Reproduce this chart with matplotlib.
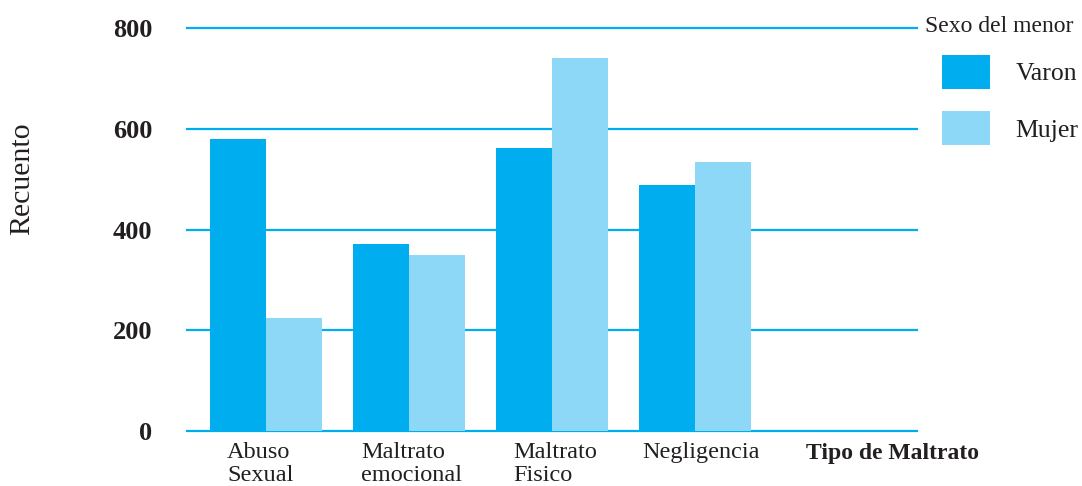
import numpy as np
import matplotlib.pyplot as plt

# datos
categorias = ["Abuso\nSexual", "Maltrato\nemocional", "Maltrato\nFisico", "Negligencia"]
varon = [580, 372, 562, 488]
mujer = [225, 350, 740, 534]
yticks = [0, 200, 400, 600, 800]

azul = "#00AEEF"
celeste = "#8DD7F7"
texto = "#231F20"

plt.rcParams['font.family'] = ['Liberation Serif', 'DejaVu Serif']

fig = plt.figure(figsize=(10.82, 4.86), dpi=100)
ax = fig.add_axes([187/1082, 1 - 431/486, 730/1082, 403/486])

x = np.arange(len(categorias))
w = 0.39
ax.bar(x - w/2, varon, w, color=azul, label="Varon", zorder=3)
ax.bar(x + w/2, mujer, w, color=celeste, label="Mujer", zorder=3)

ax.set_xlim(-0.552, 4.55)
ax.set_ylim(0, 800)
for v in yticks:
    ax.axhline(v, color=azul, lw=1.6, zorder=1, clip_on=False)

for s in ax.spines.values():
    s.set_visible(False)

ax.set_yticks(yticks)
ax.set_yticklabels([str(v) for v in yticks], fontsize=19, fontweight='bold', color=texto)
ax.tick_params(axis='y', length=0, pad=25)

ax.set_xticks(x + np.array([-0.04, 0.02, 0.02, 0.04]))
ax.set_xticklabels(categorias, fontsize=17.5, color=texto, linespacing=1.12,
                   multialignment='left', va='top')
ax.tick_params(axis='x', length=0, pad=8)

ax.text(4.38, -0.03, "Tipo de Maltrato", transform=ax.get_xaxis_transform(),
        ha='center', va='top', fontsize=17, fontweight='bold', color=texto)

fig.text(22/1082, 1 - 179/486, "Recuento", rotation=90, ha='center', va='center',
         fontsize=21.5, color=texto)

# leyenda: titulo aparte, cuadros desplazados a la derecha
fig.text(925/1082, 1 - 26/486, "Sexo del menor", ha='left', va='center',
         fontsize=17, color=texto)
leg = ax.legend(loc='upper left', bbox_to_anchor=(942/1082, 1 - 55/486),
                bbox_transform=fig.transFigure, frameon=False,
                fontsize=18.5, handlelength=1.85, handleheight=1.65,
                handletextpad=1.0, labelspacing=0.88, borderpad=0, borderaxespad=0)
for t in leg.get_texts():
    t.set_color(texto)

fig.savefig("out.png", dpi=100)
